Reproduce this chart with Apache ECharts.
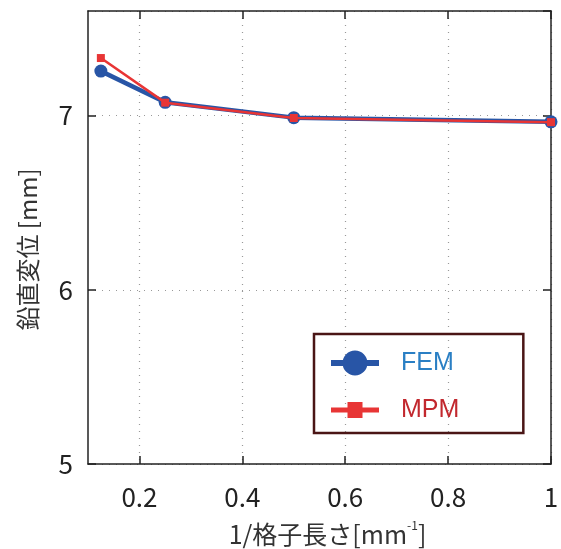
<!DOCTYPE html>
<html><head><meta charset="utf-8">
<script src="https://cdn.jsdelivr.net/npm/echarts@6/dist/echarts.min.js"></script>
<style>html,body{margin:0;padding:0;background:#fff}#c{width:561px;height:549px}</style>
</head><body><div id="c"></div>
<script>
const xValues = [0.125, 0.25, 0.5, 1.0];
const femValues = [7.255, 7.076, 6.988, 6.964];
const mpmValues = [7.33, 7.074, 6.986, 6.962];
const seriesNames = ['FEM', 'MPM'];
const xTicks = [0.2, 0.4, 0.6, 0.8, 1];
const yTicks = [5, 6, 7];

const chart = echarts.init(document.getElementById('c'));
const font = "'Noto Sans CJK JP', 'Noto Sans', sans-serif";
const grid = {left: 88, right: 10, top: 11, bottom: 85, containLabel: false, outerBoundsMode: 'none'};
const baseX = {type: 'value', min: 0.1, max: 1, interval: 0.1};
const baseY = {type: 'value', min: 5, max: 7.6, interval: 1};
const femIcon = 'path://M0,0 L0,0 M48,26 L48,26 M0,10 L48,10 L48,16 L0,16 Z M11.5,13 A12.5,12.5 0 1,1 36.5,13 A12.5,12.5 0 1,1 11.5,13 Z';
const mpmIcon = 'path://M0,0 L0,0 M48,26 L48,26 M0,10.5 L48,10.5 L48,15.5 L0,15.5 Z M16.5,5 L31.5,5 L31.5,21 L16.5,21 Z';
chart.setOption({
  animation: false,
  grid: grid,
  xAxis: [
    Object.assign({}, baseX, {
      name: '{a|1/格子長さ[mm}{s|-1}{a|]}', nameLocation: 'middle', nameGap: 55,
      nameTextStyle: {padding: [0, 0, 0, 16], rich: {a: {fontSize: 25, lineHeight: 30, color: '#333', fontFamily: font}, s: {fontSize: 12, lineHeight: 30, color: '#333', fontFamily: font, verticalAlign: 'top'}}},
      axisLine: {show: true, lineStyle: {color: '#222', width: 1.5}},
      axisTick: {show: true, inside: true, length: 8, lineStyle: {color: '#222', width: 1.5}, customValues: xTicks},
      axisLabel: {fontSize: 26, color: '#222', fontFamily: font, margin: 20, customValues: xTicks, formatter: v => String(+v.toFixed(1))},
      splitLine: {show: true, lineStyle: {color: '#999', type: [1, 6], width: 1.2}},
      position: 'bottom'
    }),
    Object.assign({}, baseX, {
      position: 'top',
      axisLine: {show: true, lineStyle: {color: '#222', width: 1.5}},
      axisTick: {show: true, inside: true, length: 8, lineStyle: {color: '#222', width: 1.5}, customValues: xTicks},
      axisLabel: {show: false}, splitLine: {show: false}
    })
  ],
  yAxis: [
    Object.assign({}, baseY, {
      name: '鉛直変位 [mm]', nameLocation: 'middle', nameGap: 48,
      nameTextStyle: {fontSize: 24, color: '#333', fontFamily: font, padding: [0, 24, 0, 0]},
      axisLine: {show: true, lineStyle: {color: '#222', width: 1.5}},
      axisTick: {show: true, inside: true, length: 8, lineStyle: {color: '#222', width: 1.5}},
      axisLabel: {fontSize: 26, color: '#222', fontFamily: font, margin: 15, showMaxLabel: false},
      splitLine: {show: true, lineStyle: {color: '#999', type: [1, 6], width: 1.2}}
    }),
    Object.assign({}, baseY, {
      position: 'right',
      axisLine: {show: true, lineStyle: {color: '#222', width: 1.5}},
      axisTick: {show: true, inside: true, length: 8, lineStyle: {color: '#222', width: 1.5}},
      axisLabel: {show: false}, splitLine: {show: false}
    })
  ],
  legend: {
    left: 314, top: 334, orient: 'vertical',
    padding: [16, 64, 10, 17], itemGap: 21,
    borderColor: '#4a1515', borderWidth: 2.5,
    itemWidth: 48, itemHeight: 26,
    textStyle: {fontSize: 25, lineHeight: 26, fontFamily: "'Liberation Sans', Arial, sans-serif", padding: [0, 0, 0, 17]},
    data: [
      {name: seriesNames[0], icon: femIcon, textStyle: {color: '#2a7fc4'}},
      {name: seriesNames[1], icon: mpmIcon, textStyle: {color: '#c2282e'}}
    ]
  },
  series: [
    {
      name: seriesNames[0], type: 'line', data: xValues.map((x, i) => [x, femValues[i]]),
      symbol: 'circle', symbolSize: 13, color: '#2855a6',
      lineStyle: {width: 4.5, color: '#2855a6'}, itemStyle: {color: '#2855a6'}, z: 2
    },
    {
      name: seriesNames[1], type: 'line', data: xValues.map((x, i) => [x, mpmValues[i]]),
      symbol: 'rect', symbolSize: 8, color: '#e83535',
      lineStyle: {width: 2.5, color: '#e83535'}, itemStyle: {color: '#e83535'}, z: 3
    }
  ]
});
</script></body></html>
